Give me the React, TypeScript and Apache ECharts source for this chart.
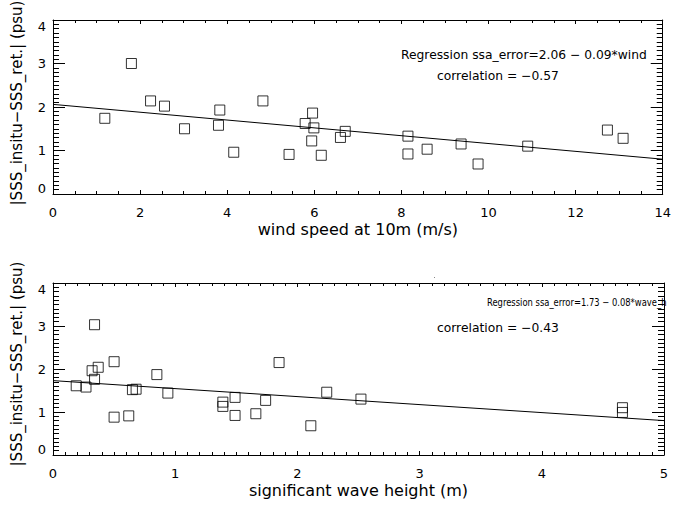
import React, { useEffect, useRef } from "react";
import * as echarts from "echarts";

// Top panel: wind speed at 10 m (m/s) vs |SSS_insitu - SSS_ret| (psu)
const windSpeed = [1.19, 1.8, 2.24, 2.56, 3.02, 3.83, 3.8, 4.15, 4.82, 5.42, 5.79, 5.96, 5.99, 5.94, 6.16, 6.6, 6.71, 8.15, 8.15, 8.59, 9.37, 9.76, 10.9, 12.73, 13.09];
const windError = [1.74, 3.0, 2.14, 2.02, 1.5, 1.93, 1.58, 0.96, 2.14, 0.91, 1.62, 1.86, 1.52, 1.22, 0.89, 1.3, 1.44, 1.33, 0.92, 1.03, 1.15, 0.69, 1.1, 1.47, 1.28];
const windFitLine = [[0, 2.06], [14, 0.8]];

// Bottom panel: significant wave height (m) vs |SSS_insitu - SSS_ret| (psu)
const waveHeight = [0.19, 0.27, 0.34, 0.32, 0.37, 0.34, 0.5, 0.5, 0.62, 0.65, 0.68, 0.85, 0.94, 1.39, 1.39, 1.49, 1.49, 1.66, 1.74, 1.85, 2.11, 2.24, 2.52, 4.66, 4.66];
const waveError = [1.61, 1.58, 3.03, 1.96, 2.04, 1.76, 2.17, 0.88, 0.91, 1.52, 1.53, 1.87, 1.44, 1.23, 1.13, 1.34, 0.92, 0.96, 1.27, 2.15, 0.68, 1.46, 1.3, 1.1, 0.99];
const waveFitLine = [[0, 1.73], [5, 0.8]];

const windAxis = { min: 0, max: 14, interval: 2, minor: 4 };
const waveAxis = { min: 0, max: 5, interval: 1, minor: 10 };
const errorAxis = { min: 0, max: 4, interval: 1, minor: 10 };

const yTitle = "|SSS_insitu−SSS_ret.| (psu)";
const windTitle = "wind speed at 10m (m/s)";
const waveTitle = "significant wave height (m)";
const windRegText = "Regression ssa_error=2.06 − 0.09*wind";
const windCorrText = "correlation = −0.57";
const waveRegText = "Regression ssa_error=1.73 − 0.08*wave_h";
const waveCorrText = "correlation = −0.43";

const FONT = "DejaVu Sans";
const BLACK = "#000";

function xAxesFor(gridIndex: number, cfg: any, name: string) {
  const common = {
    gridIndex,
    type: "value",
    min: cfg.min,
    max: cfg.max,
    interval: cfg.interval,
    axisLine: { show: true, onZero: false, lineStyle: { color: BLACK, width: 1 } },
    axisTick: { show: true, inside: true, length: 4, lineStyle: { color: BLACK, width: 1 } },
    minorTick: { show: true, splitNumber: cfg.minor, length: 3, lineStyle: { color: BLACK, width: 1 } },
    splitLine: { show: false },
    minorSplitLine: { show: false },
  };
  return [
    {
      ...common,
      position: "bottom",
      axisLabel: { show: true, margin: 12, fontSize: 13, color: BLACK, fontFamily: FONT, showMinLabel: true, showMaxLabel: true },
      name,
      nameLocation: "middle",
      nameGap: 27,
      nameTextStyle: { fontSize: 16, color: BLACK, fontFamily: FONT },
    },
    { ...common, position: "top", axisLabel: { show: false } },
  ];
}

function yAxesFor(gridIndex: number, cfg: any) {
  const common = {
    gridIndex,
    type: "value",
    min: cfg.min,
    max: cfg.max,
    interval: cfg.interval,
    axisLine: { show: true, onZero: false, lineStyle: { color: BLACK, width: 1 } },
    axisTick: { show: true, inside: true, length: 12, lineStyle: { color: BLACK, width: 1 } },
    minorTick: { show: true, splitNumber: cfg.minor, length: 6, lineStyle: { color: BLACK, width: 1 } },
    splitLine: { show: false },
    minorSplitLine: { show: false },
  };
  return [
    {
      ...common,
      position: "left",
      axisLabel: {
        show: true,
        margin: 7,
        fontSize: 13,
        color: BLACK,
        fontFamily: FONT,
        showMinLabel: true,
        showMaxLabel: true,
        formatter: (v: number) => (v === cfg.max ? "{t|" + v + "}" : v === cfg.min ? "{b|" + v + "}" : "{n|" + v + "}"),
        rich: {
          t: { fontSize: 13, fontFamily: FONT, color: BLACK, padding: [12, 0, 0, 0] },
          b: { fontSize: 13, fontFamily: FONT, color: BLACK, padding: [0, 0, 12, 0] },
          n: { fontSize: 13, fontFamily: FONT, color: BLACK },
        },
      },
    },
    { ...common, position: "right", axisLabel: { show: false } },
  ];
}

function scatterSeries(xi: number, yi: number, xs: number[], ys: number[]) {
  return {
    type: "scatter",
    xAxisIndex: xi,
    yAxisIndex: yi,
    data: xs.map((x, i) => [x, ys[i]]),
    symbol: "rect",
    symbolSize: 10,
    itemStyle: { color: "rgba(0,0,0,0)", borderColor: BLACK, borderWidth: 1 },
    z: 3,
  };
}

function fitSeries(xi: number, yi: number, pts: number[][]) {
  return {
    type: "line",
    xAxisIndex: xi,
    yAxisIndex: yi,
    data: pts,
    showSymbol: false,
    symbol: "none",
    lineStyle: { color: BLACK, width: 1 },
    z: 2,
  };
}

function label(text: string, x: number, y: number, size: number, scaleX = 1) {
  return {
    type: "text",
    x,
    y,
    scaleX,
    style: { text, fill: BLACK, fontSize: size, fontFamily: FONT, textAlign: "left", textVerticalAlign: "middle" },
    z: 10,
  };
}

function vTitle(text: string, x: number, y: number) {
  return {
    type: "text",
    x,
    y,
    rotation: Math.PI / 2,
    style: { text, fill: BLACK, fontSize: 15, fontFamily: FONT, textAlign: "center", textVerticalAlign: "middle" },
    z: 10,
  };
}

export default function App() {
  const ref = useRef<HTMLDivElement>(null);
  useEffect(() => {
    const chart = echarts.init(ref.current!, null, { renderer: "svg" });
    const option: any = {
      animation: false,
      backgroundColor: "#fff",
      grid: [
        { left: 53, top: 20, width: 611, height: 174 },
        { left: 53, top: 283, width: 611, height: 172 },
      ],
      xAxis: [...xAxesFor(0, windAxis, windTitle), ...xAxesFor(1, waveAxis, waveTitle)],
      yAxis: [...yAxesFor(0, errorAxis), ...yAxesFor(1, errorAxis)],
      series: [
        fitSeries(0, 0, windFitLine),
        scatterSeries(0, 0, windSpeed, windError),
        fitSeries(2, 2, waveFitLine),
        scatterSeries(2, 2, waveHeight, waveError),
      ],
      graphic: [
        vTitle(yTitle, 17, 103),
        vTitle(yTitle, 17, 364),
        label(windRegText, 401, 55, 12.3),
        label(windCorrText, 437, 76, 12.3),
        label(waveRegText, 487, 302, 10, 0.84),
        label(waveCorrText, 437, 328, 12.3),
        { type: "rect", shape: { x: 434, y: 277, width: 1, height: 1 }, style: { fill: "#888" } },
      ],
    };
    chart.setOption(option);
    return () => chart.dispose();
  }, []);
  return (
    <div
      ref={ref}
      style={{ position: "fixed", left: 0, top: 0, width: 674, height: 506, background: "#fff" }}
    />
  );
}
